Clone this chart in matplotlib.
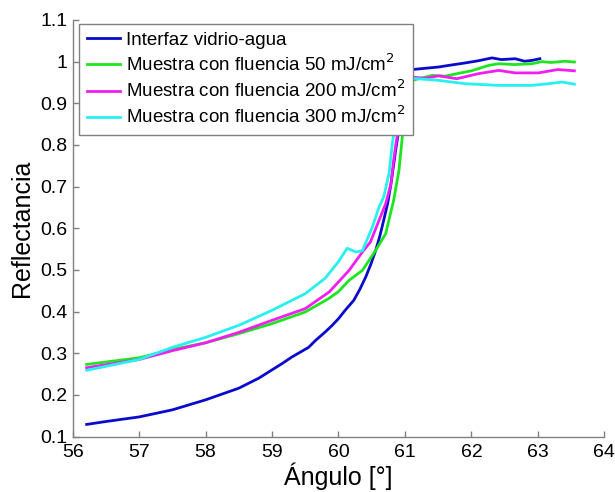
import matplotlib
matplotlib.use("Agg")
import matplotlib.pyplot as plt
from matplotlib.ticker import FuncFormatter

plt.rcParams['font.family'] = ['Liberation Sans', 'DejaVu Sans']

labels = ['Interfaz vidrio-agua',
          'Muestra con fluencia 50 mJ/cm$^2$',
          'Muestra con fluencia 200 mJ/cm$^2$',
          'Muestra con fluencia 300 mJ/cm$^2$']

blue_x = [56.21, 56.5, 57.0, 57.5, 58.0, 58.5, 58.8, 59.0, 59.15, 59.3, 59.55, 59.65, 59.8,
          59.9, 60.0, 60.1, 60.23, 60.32, 60.41, 60.49, 60.56, 60.62, 60.68, 60.74, 60.79,
          60.86, 60.92, 60.97, 61.02, 61.07, 61.11,
          61.3, 61.5, 61.66, 61.91, 62.1, 62.31, 62.45, 62.66, 62.8, 62.91, 63.03]
blue_y = [0.129, 0.136, 0.147, 0.164, 0.188, 0.216, 0.24, 0.26, 0.275, 0.291, 0.314, 0.33, 0.351,
          0.366, 0.383, 0.403, 0.427, 0.453, 0.483, 0.515, 0.547, 0.58, 0.619, 0.66, 0.707,
          0.787, 0.85, 0.91, 0.955, 0.975, 0.981,
          0.984, 0.987, 0.991, 0.997, 1.002, 1.009, 1.005, 1.007, 1.001, 1.003, 1.007]

green_x = [56.21, 57.0, 57.5, 58.0, 58.5, 59.0, 59.5, 59.86, 60.0, 60.16, 60.36, 60.56, 60.71,
           60.83, 60.91, 60.96, 61.02, 61.08, 61.11, 61.41, 61.6, 61.81, 62.0, 62.26,
           62.41, 62.65, 62.91, 63.06, 63.2, 63.41, 63.55]
green_y = [0.273, 0.289, 0.309, 0.325, 0.347, 0.371, 0.399, 0.432, 0.448, 0.475, 0.499, 0.547, 0.587,
           0.667, 0.739, 0.819, 0.89, 0.94, 0.955, 0.967, 0.965, 0.972, 0.978, 0.991,
           0.995, 0.993, 0.995, 1.0, 0.998, 1.001, 0.999]

mag_x = [56.21, 57.0, 57.5, 58.0, 58.5, 59.0, 59.5, 59.86, 60.16, 60.36, 60.48, 60.61,
         60.71, 60.79, 60.83, 60.88, 60.95, 61.02, 61.11, 61.3, 61.51, 61.78, 62.1,
         62.41, 62.66, 63.01, 63.3, 63.55]
mag_y = [0.265, 0.285, 0.306, 0.325, 0.35, 0.379, 0.407, 0.447, 0.499, 0.543, 0.567, 0.619,
         0.659, 0.707, 0.763, 0.819, 0.89, 0.94, 0.963, 0.96, 0.966, 0.959, 0.971,
         0.979, 0.973, 0.973, 0.981, 0.978]

cyan_x = [56.21, 57.0, 57.5, 58.0, 58.5, 59.0, 59.5, 59.8, 60.0, 60.13, 60.26, 60.36,
          60.51, 60.61, 60.68, 60.76, 60.81, 60.86, 60.92, 60.98, 61.05, 61.11, 61.51,
          61.91, 62.41, 62.91, 63.16, 63.36, 63.55]
cyan_y = [0.259, 0.285, 0.314, 0.338, 0.367, 0.403, 0.443, 0.48, 0.52, 0.552, 0.543, 0.546,
          0.603, 0.651, 0.675, 0.731, 0.803, 0.859, 0.91, 0.945, 0.96, 0.96, 0.955,
          0.947, 0.943, 0.943, 0.947, 0.951, 0.946]

colors = ['#0a0acd', '#1ee61e', '#f01ef0', '#28f0f0']
xticks = [56, 57, 58, 59, 60, 61, 62, 63, 64]
yticks = [0.1, 0.2, 0.3, 0.4, 0.5, 0.6, 0.7, 0.8, 0.9, 1.0, 1.1]

fig = plt.figure(figsize=(6.15, 4.92), dpi=100)
ax = fig.add_axes([72.7 / 615, (492 - 436.5) / 492, 531.6 / 615, 416.5 / 492])

series = [(blue_x, blue_y), (green_x, green_y), (mag_x, mag_y), (cyan_x, cyan_y)]
for (xs, ys), c, lab in zip(series, colors, labels):
    ax.plot(xs, ys, color=c, lw=2.0, label=lab)

ax.set_xlim(56, 64)
ax.set_ylim(0.1, 1.1)
ax.set_xticks(xticks)
ax.set_yticks(yticks)
ax.yaxis.set_major_formatter(FuncFormatter(lambda v, p: '%g' % round(v, 2)))
ax.xaxis.set_major_formatter(FuncFormatter(lambda v, p: '%g' % v))

for s in ['top', 'right']:
    ax.spines[s].set_visible(False)
for s in ['left', 'bottom']:
    ax.spines[s].set_color('#808080')
    ax.spines[s].set_linewidth(1.0)
ax.tick_params(direction='in', length=4, width=1, color='#808080',
               labelsize=14, labelcolor='black', pad=4)
ax.tick_params(axis='x', pad=5.5)

ax.set_xlabel('Ángulo [°]', fontsize=18, labelpad=1)
ax.set_ylabel('Reflectancia', fontsize=18, labelpad=4)

leg = ax.legend(loc='upper left', bbox_to_anchor=(0.0119, 0.990), borderaxespad=0,
                fontsize=13.5, handlelength=1.8, handletextpad=0.3, borderpad=0.4,
                labelspacing=0.25, fancybox=False, framealpha=1.0, edgecolor='#808080')
leg.get_frame().set_linewidth(1.0)

fig.savefig('out.png', dpi=100)
